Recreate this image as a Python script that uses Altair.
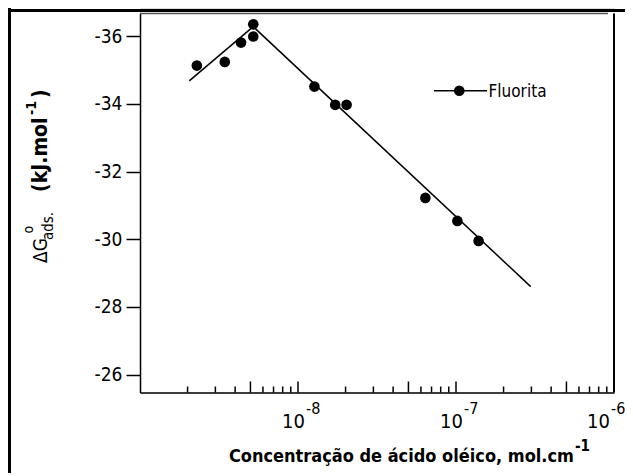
import altair as alt
import pandas as pd

# ---- data ----
conc = [2.29e-9, 3.44e-9, 4.36e-9, 5.21e-9, 5.21e-9, 1.27e-8, 1.72e-8, 2.03e-8, 6.40e-8, 1.02e-7, 1.39e-7]
dG = [-35.13, -35.24, -35.81, -35.99, -36.35, -34.51, -33.97, -33.97, -31.22, -30.54, -29.95]
fit1_x = [2.05e-9, 5.21e-9]
fit1_y = [-34.68, -36.28]
fit2_x = [5.21e-9, 2.97e-7]
fit2_y = [-36.28, -28.60]
y_ticks = [-36, -34, -32, -30, -28, -26]
x_major_ticks = [5e-9, 1e-8, 5e-8, 1e-7, 5e-7]
x_minor_ticks = [m * d for d in (1e-9, 1e-8, 1e-7) for m in (2, 3, 4, 6, 7, 8, 9)]
x_label_vals = [1e-8, 1e-7]
x_label_exp = ["-8", "-7"]
x_label_last = [1e-6]
x_label_last_exp = ["-6"]
series_name = "Fluorita"
x_title = "Concentração de ácido oléico, mol.cm"
x_title_sup = "-1"

FONT = "DejaVu Sans Condensed, Liberation Sans, sans-serif"
OFF = 5.5            # plot top inside the view (room for the figure frame)
W, H = 474, 379
HH = OFF + H         # view height

pts = pd.DataFrame({"c": conc, "g": dG})
f1 = pd.DataFrame({"c": fit1_x, "g": fit1_y})
f2 = pd.DataFrame({"c": fit2_x, "g": fit2_y})
one = alt.Data(values=[{"a": 1}])

xs = alt.Scale(type="log", domain=[1e-9, 1e-6], nice=False)
ys = alt.Scale(domain=[-36.67, -25.47], range=[OFF, HH], nice=False, zero=False)

x_axis = alt.Axis(labels=False, ticks=False, grid=False, title=None,
                  domainColor="black", domainWidth=1.5)
y_axis = alt.Axis(values=y_ticks, tickSize=14, tickWidth=1.5, tickColor="black",
                  domainColor="black", domainWidth=1.5, labelFont=FONT,
                  labelFontSize=19, labelColor="black", labelPadding=4,
                  grid=False, title=None, labelExpr="'' + datum.value")

def X():
    return alt.X("c:Q", scale=xs, axis=x_axis)

def Y():
    return alt.Y("g:Q", scale=ys, axis=y_axis)

points = alt.Chart(pts).mark_point(filled=True, color="black", size=113, opacity=1).encode(
    x=X(), y=Y())
line1 = alt.Chart(f1).mark_line(color="black", strokeWidth=1.5).encode(x=X(), y=Y())
line2 = alt.Chart(f2).mark_line(color="black", strokeWidth=1.5).encode(x=X(), y=Y())

maj = alt.Chart(pd.DataFrame({"c": x_major_ticks})).mark_rule(color="black", strokeWidth=1.5).encode(
    x=X(), y=alt.value(HH), y2=alt.value(HH - 11))
mnr = alt.Chart(pd.DataFrame({"c": x_minor_ticks})).mark_rule(color="black", strokeWidth=1.5).encode(
    x=X(), y=alt.value(HH), y2=alt.value(HH - 6))

def tick_labels(vals, exps, shift):
    df = pd.DataFrame({"c": vals, "e": exps, "b": ["10"] * len(vals)})
    base = alt.Chart(df).mark_text(font=FONT, fontSize=20, color="black", align="right",
                                   baseline="alphabetic", dx=shift).encode(
        x=X(), y=alt.value(OFF + 414.5), text="b:N")
    ex = alt.Chart(df).mark_text(font=FONT, fontSize=16, color="black", align="left",
                                 baseline="alphabetic", dx=shift + 1).encode(
        x=X(), y=alt.value(OFF + 400), text="e:N")
    return [base, ex]

labels = tick_labels(x_label_vals, x_label_exp, 7) + tick_labels(x_label_last, x_label_last_exp, -4)

def txt(s, x, y, size=19, angle=0, bold=False, align="left"):
    kw = dict(font=FONT, fontSize=size, color="black", align=align, baseline="alphabetic",
              text=s)
    if angle:
        kw["angle"] = angle
    if bold:
        kw["fontWeight"] = "bold"
    return alt.Chart(one).mark_text(**kw).encode(x=alt.value(x), y=alt.value(OFF + y))

xt = txt(x_title, 434, 448.5, size=18, bold=True, align="right")
xt_sup = txt(x_title_sup, 435, 437, size=15, bold=True)

yt = [
    txt("\u0394G", -93, 249.5, size=19, angle=270),
    txt("o", -107, 220, size=14, angle=270),
    txt("ads.", -87, 226.5, size=15, angle=270),
    txt("(kJ.mol", -93, 178.5, size=21, angle=270, bold=True),
    txt("-1", -104, 101.5, size=14, angle=270, bold=True),
    txt(")", -93, 84.5, size=21, angle=270, bold=True),
]

leg_line = alt.Chart(one).mark_rule(color="black", strokeWidth=1.5).encode(
    x=alt.value(294), x2=alt.value(347), y=alt.value(OFF + 77.2))
leg_dot = alt.Chart(one).mark_point(filled=True, color="black", size=113, opacity=1).encode(
    x=alt.value(319.3), y=alt.value(OFF + 77.2))
leg_txt = txt(series_name, 348.5, 83.8, size=17)

top_line = alt.Chart(one).mark_rule(color="#555555", strokeWidth=1.5).encode(
    x=alt.value(0), x2=alt.value(468), y=alt.value(OFF))
right_line = alt.Chart(one).mark_rule(color="black", strokeWidth=2).encode(
    x=alt.value(474), y=alt.value(OFF), y2=alt.value(HH))

def hseg(x1, x2):
    return alt.Chart(one).mark_rule(color="black", strokeWidth=3).encode(
        x=alt.value(x1), x2=alt.value(x2), y=alt.value(2.5))

frame_top = [hseg(0, 474), hseg(-132, 0), hseg(474, 485)]
frame_left = alt.Chart(one).mark_rule(color="black", strokeWidth=3).encode(
    x=alt.value(-130.5), y=alt.value(0), y2=alt.value(468))

chart = alt.layer(
    points, line1, line2, maj, mnr, *labels, xt, xt_sup, *yt,
    leg_line, leg_dot, leg_txt, top_line, right_line, *frame_top, frame_left,
).properties(
    width=W, height=HH,
    autosize=alt.AutoSizeParams(type="none"),
    padding={"left": 132, "top": 0, "right": 11, "bottom": 80},
).configure_view(stroke=None).configure(background="white")

chart.save("out.html", embed_options={"renderer": "svg", "actions": False})
